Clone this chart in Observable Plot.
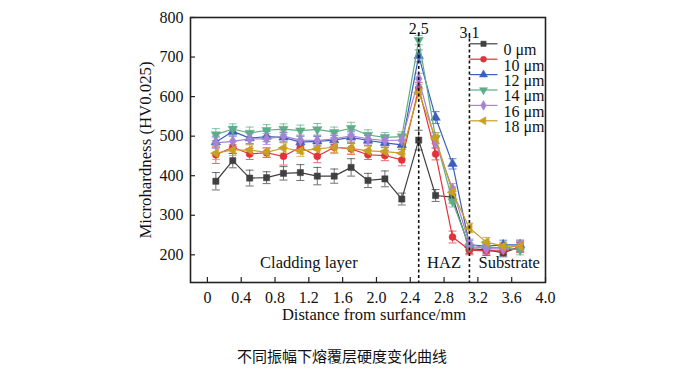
<!DOCTYPE html>
<html><head><meta charset="utf-8">
<script src="https://cdn.jsdelivr.net/npm/d3@7"></script>
<script src="https://cdn.jsdelivr.net/npm/@observablehq/plot@0.6"></script>
<style>
body{margin:0;background:#fff;width:688px;height:369px;overflow:hidden}
#chart svg{display:block}
#caption{font-family:"Noto Sans CJK SC",sans-serif;font-size:15px;text-align:center;width:684px;line-height:20px;color:#111;margin-top:6px}
</style></head><body><div id="chart"></div><div id="caption">不同振幅下熔覆层硬度变化曲线</div>
<script>
const distance = [0.1,0.3,0.5,0.7,0.9,1.1,1.3,1.5,1.7,1.9,2.1,2.3,2.5,2.7,2.9,3.1,3.3,3.5,3.7];
const seriesNames = ["0 μm","10 μm","12 μm","14 μm","16 μm","18 μm"];
const hv0  = [386,438,394,395,406,408,399,399,421,388,392,341,490,350,346,215,213,205,220];
const hv10 = [453,472,455,458,449,472,449,472,468,453,451,440,621,455,245,212,210,210,218];
const hv12 = [485,512,495,499,497,485,487,490,497,489,483,478,703,547,430,225,222,225,225];
const hv14 = [504,518,508,515,518,514,517,510,520,503,497,499,743,495,335,220,218,218,212];
const hv16 = [483,487,493,493,500,490,489,493,501,493,489,490,645,484,367,228,215,215,225];
const hv18 = [457,465,465,459,470,463,468,472,469,463,461,457,610,495,358,268,232,222,222];
const err0  = [22,18,20,15,17,20,22,18,22,18,20,15,25,15,15,12,15,10,12];
const err10 = [22,15,14,12,22,15,16,15,14,12,13,15,15,15,15,12,10,10,12];
const err12 = [15,12,14,13,12,15,12,12,14,13,12,12,15,15,13,12,12,12,12];
const err14 = [15,13,15,14,13,14,15,13,15,13,12,12,12,14,14,12,12,12,12];
const err16 = [13,14,13,14,13,13,14,13,14,13,13,13,14,14,13,12,12,12,12];
const err18 = [16,14,13,12,13,14,13,13,14,12,12,13,14,14,14,12,12,10,12];
const xTicks = [0,0.4,0.8,1.2,1.6,2.0,2.4,2.8,3.2,3.6,4.0];
const yTicks = [200,300,400,500,600,700,800];
const boundaries = [2.5, 3.1];
const regionLabels = ["Cladding layer","HAZ","Substrate"];
const regionX = [1.2, 2.8, 3.57];

// styles
const colors = ["#404040","#e3323c","#3b5fbd","#5dae88","#a783d6","#c9a020"];
const symbols = ["square","circle","triangle","triangle","diamond","triangle"];
const rotations = [0,0,0,180,0,-90];

const values = [hv0,hv10,hv12,hv14,hv16,hv18];
const errors = [err0,err10,err12,err14,err16,err18];
const tables = values.map((vals,s)=>distance.map((x,i)=>({x, y: vals[i], e: errors[s][i]})));

const cap = {draw(ctx){ctx.moveTo(-4,0);ctx.lineTo(4,0);}};
const legLine = {draw(ctx){ctx.moveTo(-14,0);ctx.lineTo(14,0);}};

const W = 688, H = 340, ML = 190, MR = 143, MT = 17, MB = 58;
const pw = W-ML-MR, ph = H-MT-MB;
const font = "'Liberation Serif', 'Times New Roman', serif";

const marks = [];
tables.forEach((t,s)=>{
  const c = colors[s];
  marks.push(Plot.ruleX(t,{x:"x",y1:d=>d.y-d.e,y2:d=>d.y+d.e,stroke:c,strokeWidth:1,strokeOpacity:0.75}));
  marks.push(Plot.dot(t,{x:"x",y:d=>d.y+d.e,symbol:cap,stroke:c,fill:"none",strokeWidth:1,strokeOpacity:0.75,r:3}));
  marks.push(Plot.dot(t,{x:"x",y:d=>d.y-d.e,symbol:cap,stroke:c,fill:"none",strokeWidth:1,strokeOpacity:0.75,r:3}));
});
tables.forEach((t,s)=>{
  const c = colors[s];
  marks.push(Plot.line(t,{x:"x",y:"y",stroke:c,strokeWidth:1.2}));
  marks.push(Plot.dot(t,{x:"x",y:"y",symbol:symbols[s],rotate:rotations[s],fill:c,stroke:c,strokeWidth:0.5,r:3.5}));
});
// boundaries
marks.push(Plot.ruleX(boundaries,{x:d=>d,insetTop:16,stroke:"#111",strokeWidth:1.6,strokeDasharray:"3,2.5"}));
marks.push(Plot.text([boundaries[0]],{x:d=>d,text:d=>d.toFixed(1),frameAnchor:"top",dy:5.5,fontSize:16,fill:"#111"}));
marks.push(Plot.text([boundaries[1]],{x:d=>d,text:d=>d.toFixed(1),frameAnchor:"top",dy:9,fontSize:16,fill:"#111"}));
// region labels
marks.push(Plot.text(regionLabels,{x:(d,i)=>regionX[i],text:d=>d,frameAnchor:"bottom",dy:-15,fontSize:16.5,fill:"#111"}));
// legend
seriesNames.forEach((n,s)=>{
  const dy = 26.3 + 15.4*s;
  marks.push(Plot.dot([n],{frameAnchor:"top-left",dx:293,dy,symbol:legLine,stroke:colors[s],fill:"none",strokeWidth:1.2,r:1}));
  marks.push(Plot.dot([n],{frameAnchor:"top-left",dx:293,dy,symbol:symbols[s],rotate:rotations[s],fill:colors[s],stroke:colors[s],strokeWidth:0.5,r:3}));
  marks.push(Plot.text([n],{frameAnchor:"top-left",dx:313,dy,text:d=>d,textAnchor:"start",fontSize:16,fill:"#111"}));
});
// ticks (inward)
marks.push(Plot.tickX(xTicks,{x:d=>d,insetTop:ph-5,stroke:"#222",strokeWidth:1.2}));
marks.push(Plot.tickY(yTicks,{y:d=>d,insetRight:pw-5,stroke:"#222",strokeWidth:1.2}));
marks.push(Plot.axisX(xTicks,{tickSize:0,tickPadding:9,fontSize:16,tickFormat:d=>d===0?"0":d.toFixed(1),fill:"#111"}));
marks.push(Plot.axisY(yTicks,{tickSize:0,tickPadding:7,fontSize:16,fill:"#111"}));
marks.push(Plot.frame({stroke:"#222",strokeWidth:1.6}));
// axis titles
marks.push(Plot.text(["Microhardness (HV0.025)"],{frameAnchor:"left",dx:-45,rotate:-90,textAnchor:"middle",text:d=>d,fontSize:16.8,fill:"#111"}));
marks.push(Plot.text(["Distance from surfance/mm"],{frameAnchor:"bottom",dx:6,dy:37.5,text:d=>d,fontSize:16.5,fill:"#111"}));

const chart = Plot.plot({
  width: W, height: H,
  marginLeft: ML, marginRight: MR, marginTop: MT, marginBottom: MB,
  style: {fontFamily: font, fontSize: "16px", color: "#111", background: "#fff"},
  x: {domain: [-0.2, 4.0], label: null},
  y: {domain: [130, 800], label: null},
  marks
});
document.getElementById("chart").appendChild(chart);
</script>
</body></html>
